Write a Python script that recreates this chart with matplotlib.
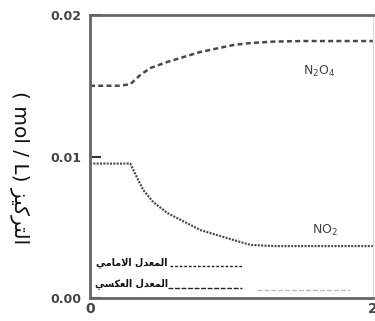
import matplotlib
matplotlib.use("Agg")
import matplotlib.pyplot as plt

# data
time_n2o4 = [0.0, 0.10, 0.20, 0.284, 0.355, 0.426, 0.546, 0.78, 1.014, 1.135, 1.3, 1.5, 1.7, 2.0]
conc_n2o4 = [0.0150, 0.0150, 0.0150, 0.0151, 0.01576, 0.01625, 0.01668, 0.01739, 0.01788, 0.01802, 0.01812, 0.01816, 0.01816, 0.01816]
time_no2 = [0.0, 0.10, 0.20, 0.284, 0.376, 0.447, 0.546, 0.78, 1.014, 1.135, 1.3, 1.5, 1.7, 2.0]
conc_no2 = [0.0095, 0.0095, 0.0095, 0.0095, 0.00763, 0.00678, 0.00601, 0.0048, 0.0041, 0.00375, 0.00367, 0.00367, 0.00367, 0.00367]
yticks = [0.00, 0.01, 0.02]
ytick_labels = ["0.00", "0.01", "0.02"]
xticks = [0, 2]
xtick_labels = ["0", "2"]

# Arabic strings pre-shaped (presentation forms, visual order)
lbl_forward = "\uFEF2\uFEE3\uFE8E\uFEE3\uFEFB\uFE8D \uFEDD\uFEAA\uFECC\uFEE4\uFEDF\uFE8D"   # المعدل الامامي
lbl_reverse = "\uFEF2\uFEB4\uFEDC\uFECC\uFEDF\uFE8D \uFEDD\uFEAA\uFECC\uFEE4\uFEDF\uFE8D"   # المعدل العكسي
lbl_conc = "\uFEB0\uFEF4\uFEDB\uFEAE\uFE98\uFEDF\uFE8D"                                      # التركيز
ylabel_text = "( mol / L) " + lbl_conc

fig = plt.figure(figsize=(3.75, 3.21), dpi=100)
W, H = 375, 321
x0, x1, y0, y1 = 90, 373, 15, 298
ax = fig.add_axes([x0 / W, (H - y1) / H, (x1 - x0) / W, (y1 - y0) / H])
ax.set_xlim(0, 2)
ax.set_ylim(0, 0.02)

col = "#4a4a4a"
ax.plot(time_n2o4, conc_n2o4, color=col, lw=1.8, ls=(0, (2.0, 1.3)))
ax.plot(time_no2, conc_no2, color=col, lw=1.6, ls=(0, (0.9, 0.6)))

ax.text(1.62, 0.0160, "N$_2$O$_4$", color="#444444", fontsize=9, ha="center", va="center")
ax.text(1.66, 0.0048, "NO$_2$", color="#444444", fontsize=9, ha="center", va="center")

# legend-like annotations
tf = ax.transAxes
def px2ax(px, py):
    return ((px - x0) / (x1 - x0), (y1 - py) / (y1 - y0))

fx, fy = px2ax(168, 263)
ax.text(fx, fy, lbl_forward, transform=tf, ha="right", va="center", fontsize=6.9,
        fontweight="bold", family="DejaVu Sans", color="#111111")
a, b = px2ax(170, 266)
c, _ = px2ax(242, 266)
ax.plot([a, c], [b, b], transform=tf, color="#222222", lw=1.0, ls=(0, (2.0, 1.3)))

fx, fy = px2ax(168, 284)
ax.text(fx, fy, lbl_reverse, transform=tf, ha="right", va="center", fontsize=6.9,
        fontweight="bold", family="DejaVu Sans", color="#111111")
a, b = px2ax(168, 288)
c, _ = px2ax(242, 288)
ax.plot([a, c], [b, b], transform=tf, color="#222222", lw=1.0, ls=(0, (3.5, 1.2)))
a, b = px2ax(257, 290)
c, _ = px2ax(350, 290)
ax.plot([a, c], [b, b], transform=tf, color="#bbbbbb", lw=1.0, ls=(0, (3.5, 1.5)))

for side in ["left", "bottom", "top"]:
    ax.spines[side].set_color("#666666")
    ax.spines[side].set_linewidth(2.0)
ax.spines["right"].set_color("#dddddd")
ax.spines["right"].set_linewidth(1.0)

ax.set_yticks(yticks)
ax.set_yticklabels(ytick_labels)
ax.set_xticks(xticks)
ax.set_xticklabels(xtick_labels)
ax.tick_params(axis="y", direction="in", length=8, width=1.5, color="#333333",
               labelsize=9, labelcolor="#444444", pad=6)
ax.tick_params(axis="x", direction="in", length=0, labelsize=10, labelcolor="#444444", pad=3)
for t in ax.get_yticklabels() + ax.get_xticklabels():
    t.set_fontweight("bold")

fig.text(20 / W, 1 - 168 / H, ylabel_text, rotation=270, ha="center", va="center",
         fontsize=14.5, family="DejaVu Sans", color="#111111")

fig.savefig("out.png", dpi=100)
